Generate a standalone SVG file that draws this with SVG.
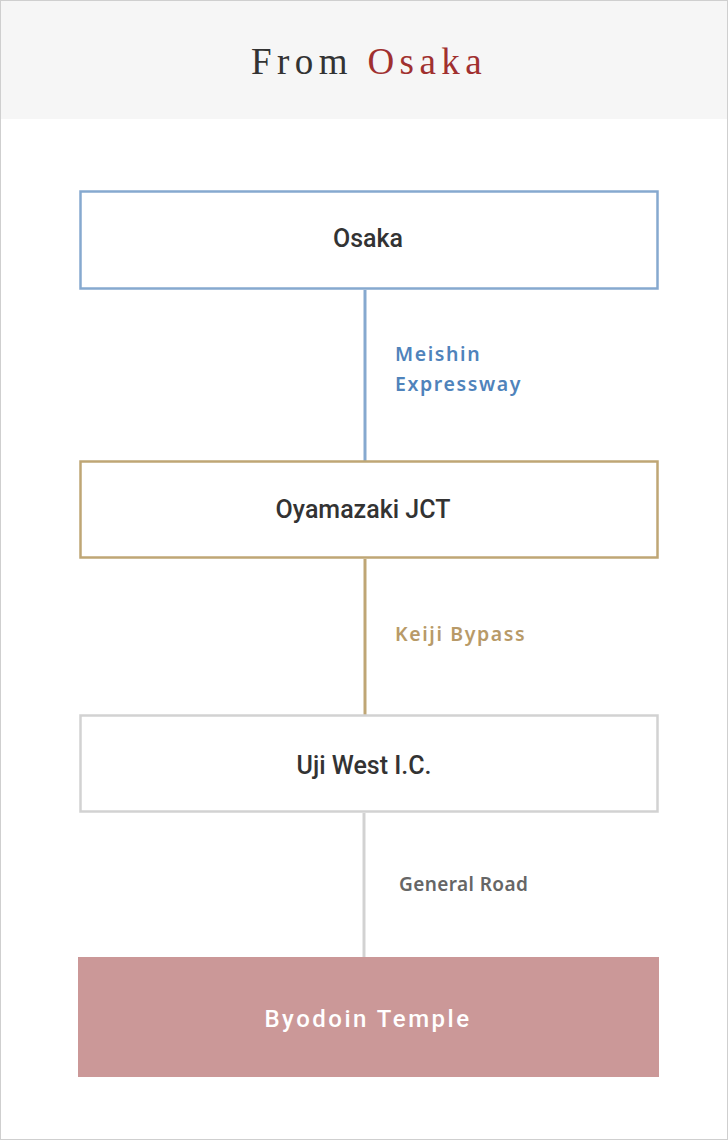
<svg xmlns="http://www.w3.org/2000/svg" width="728" height="1141" viewBox="0 0 728 1141">
<style>
.node{fill:#fff;stroke-width:2.5}
.nt{font-family:Roboto,"Noto Sans",sans-serif;font-size:25px;font-weight:500;fill:#333;text-anchor:middle}
.lbl{font-family:"Noto Sans","Open Sans",sans-serif;font-size:19.5px;font-weight:600;letter-spacing:1.6px}
.ln{stroke-width:3;fill:none}
</style>
<rect x="0.5" y="0.5" width="727" height="1139" fill="#fff" stroke="#cfcfcf"/>
<rect x="1" y="1" width="726" height="118" fill="#f6f6f6"/>
<text x="369" y="74" text-anchor="middle" font-family="'Liberation Serif','DejaVu Serif',serif" font-size="37" letter-spacing="5.4" fill="#333">From <tspan fill="#a0302f">Osaka</tspan></text>
<g id="connectors">
<line class="ln" x1="365" y1="290" x2="365" y2="461" stroke="#86a9cf"/>
<line class="ln" x1="365" y1="559" x2="365" y2="715" stroke="#bfa675"/>
<line class="ln" x1="364" y1="813" x2="364" y2="957" stroke="#d2d2d2"/>
<text class="lbl" x="395" y="361" fill="#4f83bb">Meishin</text>
<text class="lbl" x="395" y="391" fill="#4f83bb">Expressway</text>
<text class="lbl" x="395" y="641" fill="#b89a68">Keiji Bypass</text>
<text class="lbl" x="399" y="891" fill="#666" style="letter-spacing:0.4px;font-size:19px">General Road</text>
</g>
<g id="osaka">
<rect class="node" x="80.5" y="191.5" width="577" height="97" stroke="#86a9cf"/>
<text class="nt" x="368" y="247">Osaka</text>
</g>
<g id="oyamazaki">
<rect class="node" x="80.5" y="461.5" width="577" height="96" stroke="#bfa675"/>
<text class="nt" x="363" y="518">Oyamazaki JCT</text>
</g>
<g id="uji">
<rect class="node" x="80.5" y="715.5" width="577" height="96" stroke="#d2d2d2"/>
<text class="nt" x="364" y="774">Uji West I.C.</text>
</g>
<g id="byodoin">
<rect x="78" y="957" width="581" height="120" fill="#cb9898"/>
<text x="368" y="1027" text-anchor="middle" font-family="Roboto,'Noto Sans',sans-serif" font-size="24" font-weight="500" letter-spacing="2.5" fill="#fff">Byodoin Temple</text>
</g>
</svg>
